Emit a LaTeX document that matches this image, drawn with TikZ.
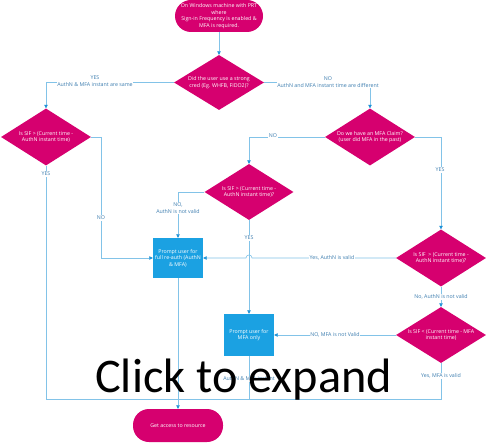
\documentclass[tikz,border=0pt]{standalone}
\usepackage{fontspec}
\setmainfont{Open Sans}
\newfontfamily\bigfont{Carlito}
\usetikzlibrary{shapes.geometric,arrows.meta,calc}
\definecolor{mag}{RGB}{214,0,111}
\definecolor{boxblue}{RGB}{27,161,226}
\definecolor{lineblue}{RGB}{130,195,232}
\definecolor{tipblue}{RGB}{27,145,215}
\definecolor{lblblue}{RGB}{60,125,175}
\begin{document}
\begin{tikzpicture}[x=1bp,y=-1bp,
  every node/.style={font=\fontsize{5.3}{6.5}\selectfont},
  term/.style={rectangle,fill=mag,text=white,minimum width=#1,minimum height=32bp,rounded corners=16bp,inner sep=0,align=center},
  dia/.style={diamond,fill=mag,minimum width=90bp,minimum height=56bp,inner sep=0},
  dtext/.style={text=white,align=center,inner sep=0},
  pbox/.style={rectangle,fill=boxblue,text=white,minimum width=50bp,minimum height=#1,inner sep=0,align=center},
  ln/.style={draw=lineblue,line width=0.6bp},
  arr/.style={ln,-{Triangle[length=3.5bp,width=3.5bp,color=tipblue]}},
  lbl/.style={fill=white,text=lblblue,inner sep=0.6bp,align=center}]
\useasboundingbox (0,0) rectangle (487,443);
\fill[white] (0,0) rectangle (487,443);

% nodes
\node[term=88bp] (s) at (219,16) {On Windows machine with PRT\\where\\Sign-in Frequency is enabled \&\\MFA is required.};
\node[dia,minimum height=55bp] (d1) at (219,82.5) {};
\node[dtext] at (d1) {Did the user use a strong\\cred (Eg. WHFB, FIDO2)?};
\node[dia,minimum height=57bp] (d2) at (46,137) {};
\node[dtext] at (d2) {Is SIF > (Current time -\\AuthN instant time)};
\node[dia,minimum height=57bp] (d3) at (370,137) {};
\node[dtext] at (d3) {Do we have an MFA Claim?\\(user did MFA in the past)};
\node[dia,minimum width=89bp] (d4) at (249,192) {};
\node[dtext] at (d4) {Is SIF > (Current time -\\AuthN instant time)?};
\node[dia,minimum height=57bp] (d5) at (441,258) {};
\node[dtext] at (d5) {Is SIF\ \ > (Current time -\\AuthN instant time)?};
\node[dia] (d6) at (441,335) {};
\node[dtext] at (d6) {Is SIF < (Current time - MFA\\instant time)};
\node[pbox=40bp] (b1) at (178,258) {Prompt user for\\full re-auth (AuthN\\\& MFA)};
\node[pbox=42bp] (b2) at (249,335) {Prompt user for\\MFA only};
\node[term=90bp,minimum height=33bp] (g) at (178,425.5) {Get access to resource};

% connectors
\draw[arr] (s) -- (d1);
\draw[arr] (d1.west) -| (d2.north);
\node[lbl] at (95,81) {YES\\AuthN \& MFA instant are same};
\draw[arr] (d1.east) -| (d3.north);
\node[lbl] at (328,82) {NO\\AuthN and MFA instant time are different};

\coordinate (n2) at (101,258);
\draw[arr] (d2.east) -| (n2) -- (b1.west);
\node[lbl] at (101,218) {NO};

\coordinate (m) at (178,399);
\draw[ln] (d2.south) |- (m);
\node[lbl] at (46,174) {YES};
\draw[ln] (d6.south) |- (m);
\node[lbl] at (441,376) {Yes, MFA is valid};
\draw[ln] (b2.south) -- (b2.south |- m);
\node[lbl] at (249,379) {AuthN \& MFA instant};
\draw[arr] (b1.south) -- (g.north);

\draw[arr] (d3.west) -| (d4.north);
\node[lbl] at (273,136) {NO};
\draw[arr] (d3.east) -| (d5.north);
\node[lbl] at (440,170) {YES};

\draw[arr] (d4.west) -| (b1.north);
\node[lbl] at (178,208) {NO,\\AuthN is not valid};
\draw[arr] (d4.south) -- (b2.north);
\node[lbl] at (249,238) {YES};

\draw[arr] (d5.west) -- ($(d4.south|-d5.west)+(3,0)$)
  .. controls ($(d4.south|-d5.west)+(3,-4)$) and ($(d4.south|-d5.west)+(-3,-4)$) ..
  ($(d4.south|-d5.west)+(-3,0)$) -- (b1.east);
\node[lbl] at (332,258) {Yes, AuthN is valid};

\draw[arr] (d5.south) -- (d6.north);
\node[lbl] at (441,297) {No, AuthN is not valid};
\draw[arr] (d6.west) -- (b2.east);
\node[lbl] at (335,335) {NO, MFA is not Valid};

% overlay text
\node[anchor=base west,inner sep=0,font=\bigfont\fontsize{48.5}{52}\selectfont] (ct) at (95,392) {Click to expand};
\end{tikzpicture}
\end{document}
